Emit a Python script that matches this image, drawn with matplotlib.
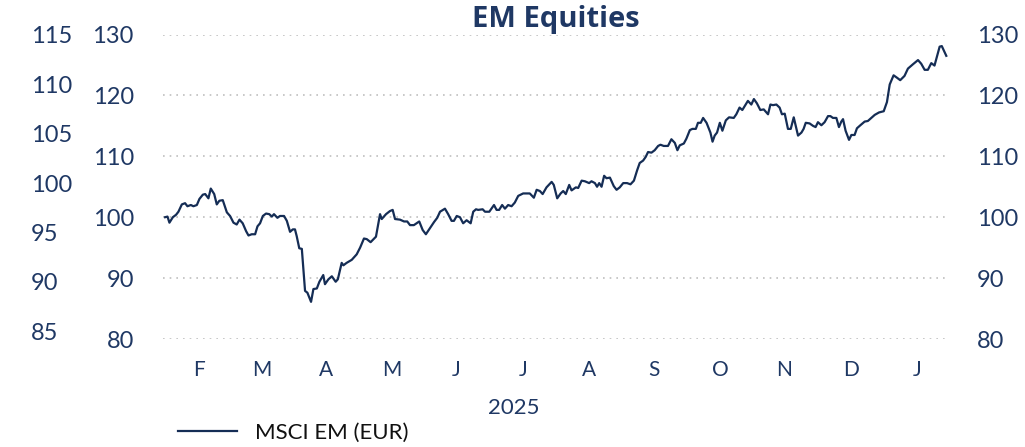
import matplotlib
matplotlib.use("Agg")
import matplotlib.pyplot as plt
import pandas as pd

# MSCI EM (EUR): calendar days after the first point, index level
start = "2025-01-30"
days = [
    0.0, 1.1, 2.0, 3.6, 5.1, 6.2, 7.8, 9.3, 10.4, 12.0, 13.2, 14.8, 16.0, 17.6, 18.7,
    20.2, 21.3, 22.9, 24.1, 25.3, 26.9, 28.8, 30.3, 31.9, 33.4, 34.7, 36.2, 37.8, 38.9,
    40.4, 42.0, 43.1, 44.3, 45.6, 47.1, 48.6, 49.8, 50.8, 52.4, 53.6, 55.5, 56.8, 58.3,
    59.6, 60.6, 61.4, 62.6, 63.8, 65.3, 66.4, 68.1, 69.2, 70.8, 72.0, 73.8, 74.6, 76.2,
    77.8, 79.6, 80.6, 82.4, 83.2, 84.7, 87.1, 89.4, 91.0, 92.8, 94.1, 95.9, 98.4, 100.3,
    101.1, 103.1, 104.9, 106.2, 107.3, 109.6, 111.5, 113.0, 114.3, 116.1, 118.6, 120.2,
    121.7, 123.6, 125.5, 127.0, 128.3, 130.6, 132.1, 133.7, 134.8, 136.1, 137.6, 139.1,
    140.7, 142.6, 143.8, 145.1, 146.1, 148.2, 149.3, 151.3, 153.5, 154.7, 155.9, 157.3,
    158.6, 160.1, 161.7, 163.2, 164.8, 167.1, 170.2, 172.1, 173.4, 174.9, 176.2, 178.0,
    180.4, 181.4, 183.0, 184.6, 185.8, 187.0, 188.6, 189.7, 191.7, 192.8, 194.4, 195.9,
    197.9, 199.0, 200.6, 201.6, 202.6, 203.7, 204.9, 206.0, 207.6, 209.4, 210.7, 212.2,
    213.8, 215.6, 217.2, 218.8, 220.3, 221.5, 223.1, 224.3, 225.4, 227.0, 228.5, 230.1,
    231.2, 232.7, 234.7, 236.3, 237.9, 239.1, 240.2, 242.1, 243.3, 244.9, 246.1, 247.7,
    248.7, 250.0, 251.1, 252.7, 254.5, 255.5, 256.5, 257.6, 258.9, 260.1, 261.7, 263.2,
    265.4, 266.6, 268.1, 269.4, 272.0, 273.6, 274.8, 276.2, 277.8, 279.4, 281.4, 282.5,
    283.7, 285.3, 286.8, 287.9, 289.2, 290.7, 292.0, 293.4, 295.4, 297.0, 298.0, 299.0,
    300.8, 302.4, 303.6, 304.7, 306.3, 307.8, 309.4, 310.5, 311.7, 313.3, 314.5, 315.6,
    316.4, 317.6, 319.2, 320.3, 321.8, 322.9, 324.5, 326.5, 328.0, 329.6, 331.2, 333.2,
    335.4, 336.9, 338.2, 340.0, 341.6, 343.1, 345.1, 346.7, 349.0, 351.4, 352.9, 354.5,
    356.0, 357.6, 359.1, 361.5, 362.5, 364.6,
]
msci_em = [
    100.0, 100.1, 99.1, 100.0, 100.4, 100.9, 102.1, 102.3, 101.8, 102.0, 101.8, 102.0, 103.0, 103.7, 103.8,
    103.1, 104.7, 103.8, 102.1, 102.7, 102.8, 100.8, 100.2, 99.1, 98.8, 99.6, 99.0, 97.7, 97.0,
    97.2, 97.2, 98.5, 99.0, 100.2, 100.6, 100.5, 100.1, 100.5, 99.9, 100.2, 100.2, 99.4, 97.6,
    98.0, 98.0, 96.9, 94.9, 94.8, 87.9, 87.6, 86.1, 88.2, 88.3, 89.4, 90.5, 89.0, 89.8,
    90.3, 89.4, 89.8, 92.5, 92.1, 92.5, 93.0, 93.9, 95.0, 96.5, 96.4, 95.9, 96.8, 100.5,
    99.7, 100.5, 101.0, 101.2, 99.7, 99.6, 99.3, 99.3, 98.7, 98.7, 99.3, 97.9,
    97.2, 98.2, 99.2, 99.9, 100.9, 101.4, 100.5, 99.4, 99.4, 100.2, 100.0, 99.0,
    99.5, 99.0, 100.9, 101.3, 101.2, 101.3, 100.9, 100.9, 102.0, 101.2, 101.2, 102.0,
    101.4, 102.0, 101.8, 102.4, 103.5, 103.9, 103.9, 103.2, 104.5, 104.3, 103.8, 104.9,
    105.8, 105.3, 103.1, 103.9, 104.3, 103.8, 105.3, 104.4, 104.9, 104.8, 106.0, 105.9,
    105.6, 105.9, 105.6, 105.0, 105.6, 105.0, 106.8, 106.4, 106.5, 105.1, 104.5, 104.9,
    105.6, 105.6, 105.4, 106.0, 107.7, 108.9, 109.3, 109.9, 110.7, 110.6, 111.0, 111.7,
    111.9, 111.7, 111.7, 112.8, 112.2, 111.0, 111.8, 112.1, 112.9, 114.3, 114.5, 114.5,
    115.5, 115.5, 116.3, 115.5, 113.9, 112.4, 113.4, 113.9, 115.5, 114.2, 115.9, 116.4,
    116.3, 116.9, 118.0, 117.6, 119.1, 118.5, 119.4, 118.7, 117.6, 117.7, 116.9, 118.5,
    118.4, 118.5, 118.0, 116.9, 117.0, 114.5, 114.5, 116.4, 113.4, 113.9, 114.5, 115.5,
    115.4, 115.0, 114.8, 115.6, 115.1, 115.6, 116.6, 116.6, 116.3, 116.3, 114.8, 115.7,
    116.1, 114.2, 112.7, 113.5, 113.5, 114.6, 115.1, 115.7, 115.8, 116.3, 116.8, 117.2,
    117.4, 118.9, 121.8, 123.3, 122.9, 122.5, 123.2, 124.4, 125.1, 125.8, 125.2, 124.2,
    124.2, 125.3, 124.9, 128.0, 128.1, 126.5,
]

month_labels = ["F", "M", "A", "M", "J", "J", "A", "S", "O", "N", "D", "J"]
month_mid = ["2025-02-15", "2025-03-16", "2025-04-15", "2025-05-16", "2025-06-15", "2025-07-16",
             "2025-08-16", "2025-09-15", "2025-10-16", "2025-11-15", "2025-12-16", "2026-01-16"]
main_ticks = [80, 90, 100, 110, 120, 130]
outer_ticks = [85, 90, 95, 100, 105, 110, 115]

navy = "#1F3864"
line_col = "#152D55"
plt.rcParams["font.family"] = ["Lato", "DejaVu Sans"]

dates = pd.Timestamp(start) + pd.to_timedelta(days, unit="D")

fig = plt.figure(figsize=(10.25, 4.47), dpi=100)
ax = fig.add_axes([163 / 1025, 1 - 339 / 447, (948 - 163) / 1025, (339 - 34.5) / 447])
ax.plot(dates, msci_em, color=line_col, lw=1.6, label="MSCI EM (EUR)")

ax.set_ylim(80, 130)
ax.set_xlim(pd.Timestamp(start) - pd.Timedelta(days=1), pd.Timestamp(start) + pd.Timedelta(days=365.4))
ax.set_yticks(main_ticks)
ax.grid(axis="y", color="#BFBFBF", ls=(0, (1, 3)), lw=1.2)
ax.set_axisbelow(True)
for s in ax.spines.values():
    s.set_visible(False)

ax.set_xticks(pd.to_datetime(month_mid))
ax.set_xticklabels(month_labels)
ax.tick_params(axis="x", length=0, labelsize=15, labelcolor=navy, pad=15)

# leftover outer scale on the left
ax2 = ax.twinx()
ax2.set_ylim(84.2, 115.05)
ax2.set_yticks(outer_ticks)
ax2.yaxis.tick_left()
for s in ax2.spines.values():
    s.set_visible(False)
ax2.tick_params(axis="y", length=0, labelsize=17, labelcolor=navy, pad=95)
for lab in ax2.get_yticklabels():
    lab.set_horizontalalignment("left")

# main scale, both sides (twinx turns the right labels off, so set them after)
ax.tick_params(axis="y", length=0, labelsize=17, labelcolor=navy, pad=21,
               left=False, right=False, labelleft=True, labelright=True)
for t in ax.yaxis.get_major_ticks():
    t.label2.set_horizontalalignment("left")

ax.set_title("EM Equities", fontsize=21, fontweight="bold", color=navy, pad=0,
             family=["Open Sans", "DejaVu Sans"])
fig.text(514 / 1025, 1 - 407.5 / 447, "2025", ha="center", va="center", fontsize=16, color=navy)

fig.legend(loc="center left", bbox_to_anchor=(178 / 1025, 1 - 433 / 447), frameon=False,
           fontsize=16, handlelength=2.65, handletextpad=0.8, borderpad=0, borderaxespad=0,
           labelcolor="#111111")

fig.savefig("out.png", dpi=100)
